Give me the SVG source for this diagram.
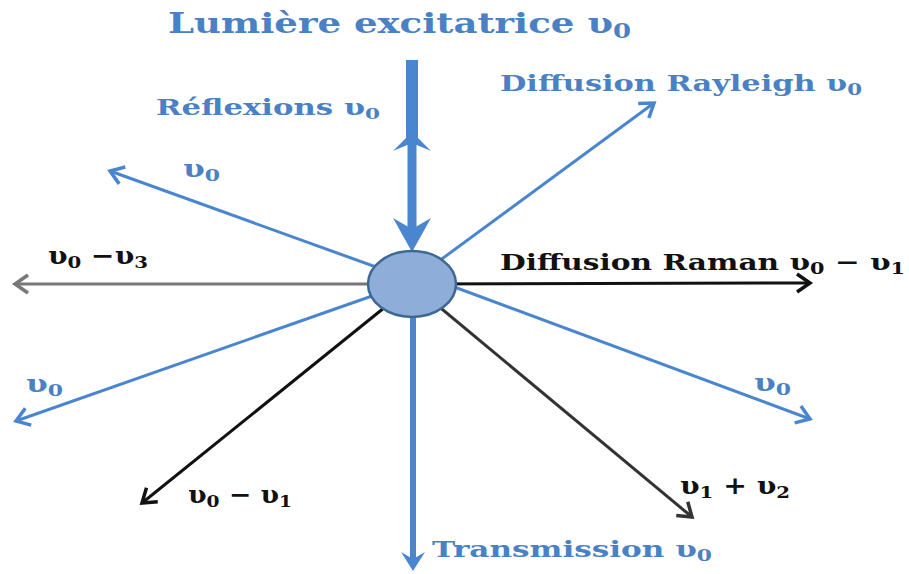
<svg xmlns="http://www.w3.org/2000/svg" width="909" height="574" viewBox="0 0 909 574">
<defs>
<style>
.t{font-family:"DejaVu Serif","Liberation Serif",serif;font-weight:bold}
.blue{fill:#4a80c4}
.blk{fill:#111}
.ln{fill:none;stroke-width:3}
.lb{stroke:#4a86d0}
.lk{stroke:#111}
.lg{stroke:#777}
.ld{stroke:#333}
.sub{font-size:70%}
</style>
<marker id="ab" viewBox="-16 -11 18 22" refX="0" refY="0" markerWidth="18" markerHeight="22" markerUnits="userSpaceOnUse" orient="auto" overflow="visible"><path d="M-13,-9 L0,0 L-13,9" fill="none" stroke="#4a86d0" stroke-width="3.5"/></marker>
<marker id="ak" viewBox="-16 -11 18 22" refX="0" refY="0" markerWidth="18" markerHeight="22" markerUnits="userSpaceOnUse" orient="auto" overflow="visible"><path d="M-13,-9 L0,0 L-13,9" fill="none" stroke="#111" stroke-width="3.5"/></marker>
<marker id="ag" viewBox="-16 -11 18 22" refX="0" refY="0" markerWidth="18" markerHeight="22" markerUnits="userSpaceOnUse" orient="auto" overflow="visible"><path d="M-13,-9 L0,0 L-13,9" fill="none" stroke="#777" stroke-width="3.5"/></marker>
<marker id="ad" viewBox="-16 -11 18 22" refX="0" refY="0" markerWidth="18" markerHeight="22" markerUnits="userSpaceOnUse" orient="auto" overflow="visible"><path d="M-13,-9 L0,0 L-13,9" fill="none" stroke="#333" stroke-width="3.5"/></marker>
</defs>
<rect width="909" height="574" fill="#fff"/>
<g id="connectors">
<line class="ln lb" x1="420" y1="275" x2="654" y2="103" marker-end="url(#ab)"/>
<line class="ln lb" x1="412" y1="280" x2="110" y2="171" marker-end="url(#ab)"/>
<line class="ln lg" x1="412" y1="284" x2="15" y2="284" marker-end="url(#ag)"/>
<line class="ln lk" x1="412" y1="284" x2="810" y2="283" marker-end="url(#ak)"/>
<line class="ln lb" x1="412" y1="282" x2="16" y2="421" marker-end="url(#ab)"/>
<line class="ln lb" x1="430" y1="278" x2="810" y2="419" marker-end="url(#ab)"/>
<line class="ln lk" x1="400" y1="295" x2="142" y2="503" marker-end="url(#ak)"/>
<line class="ln ld" x1="425" y1="295" x2="692" y2="517" marker-end="url(#ad)"/>
<g id="incident">
<line x1="412" y1="60" x2="412" y2="140" stroke="#4a86d0" stroke-width="12"/>
<line x1="412" y1="140" x2="412" y2="235" stroke="#4a86d0" stroke-width="9"/>
<polygon points="412,252 393,218 412,229 431,218" fill="#4a86d0"/>
</g>
<g id="reflection">
<polygon points="412,132 393,151 412,143 431,151" fill="#4a86d0"/>
</g>
<g id="transmission">
<line x1="413" y1="310" x2="413" y2="560" stroke="#4a86d0" stroke-width="6"/>
<polygon points="413,571 401,552 413,559 425,552" fill="#4a86d0"/>
</g>
</g>
<g id="particle">
<ellipse cx="412" cy="284" rx="44" ry="33" fill="#8fadd9" stroke="#3d6893" stroke-width="2.5"/>
</g>
<g id="labels">
<text id="lbl-title" class="t blue" x="168" y="33" font-size="28" textLength="463" lengthAdjust="spacingAndGlyphs">Lumière excitatrice υ<tspan class="sub" dy="5">0</tspan></text>
<text id="lbl-reflexions" class="t blue" x="156" y="115" font-size="22" textLength="224" lengthAdjust="spacingAndGlyphs">Réflexions υ<tspan class="sub" dy="4">0</tspan></text>
<text id="lbl-rayleigh" class="t blue" x="500" y="91" font-size="23" textLength="362" lengthAdjust="spacingAndGlyphs">Diffusion Rayleigh υ<tspan class="sub" dy="4">0</tspan></text>
<text id="lbl-ul" class="t blue" x="183" y="177" font-size="25" textLength="37" lengthAdjust="spacingAndGlyphs">υ<tspan class="sub" dy="4">0</tspan></text>
<text id="lbl-v03" class="t blk" x="48" y="264" font-size="25" textLength="100" lengthAdjust="spacingAndGlyphs">υ<tspan class="sub" dy="4">0</tspan><tspan dy="-4"> −υ</tspan><tspan class="sub" dy="4">3</tspan></text>
<text id="lbl-raman" class="t blk" x="500" y="270" font-size="23" textLength="405" lengthAdjust="spacingAndGlyphs">Diffusion Raman υ<tspan class="sub" dy="4">0</tspan><tspan dy="-4"> − υ</tspan><tspan class="sub" dy="4">1</tspan></text>
<text id="lbl-ll" class="t blue" x="26" y="392" font-size="25" textLength="37" lengthAdjust="spacingAndGlyphs">υ<tspan class="sub" dy="4">0</tspan></text>
<text id="lbl-lr" class="t blue" x="754" y="391" font-size="25" textLength="37" lengthAdjust="spacingAndGlyphs">υ<tspan class="sub" dy="4">0</tspan></text>
<text id="lbl-v01" class="t blk" x="188" y="503" font-size="24" textLength="104" lengthAdjust="spacingAndGlyphs">υ<tspan class="sub" dy="4">0</tspan><tspan dy="-4"> − υ</tspan><tspan class="sub" dy="4">1</tspan></text>
<text id="lbl-v12" class="t blk" x="680" y="494" font-size="24" textLength="110" lengthAdjust="spacingAndGlyphs">υ<tspan class="sub" dy="4">1</tspan><tspan dy="-4"> + υ</tspan><tspan class="sub" dy="4">2</tspan></text>
<text id="lbl-transmission" class="t blue" x="432" y="557" font-size="23" textLength="280" lengthAdjust="spacingAndGlyphs">Transmission υ<tspan class="sub" dy="4">0</tspan></text>
</g>
</svg>
